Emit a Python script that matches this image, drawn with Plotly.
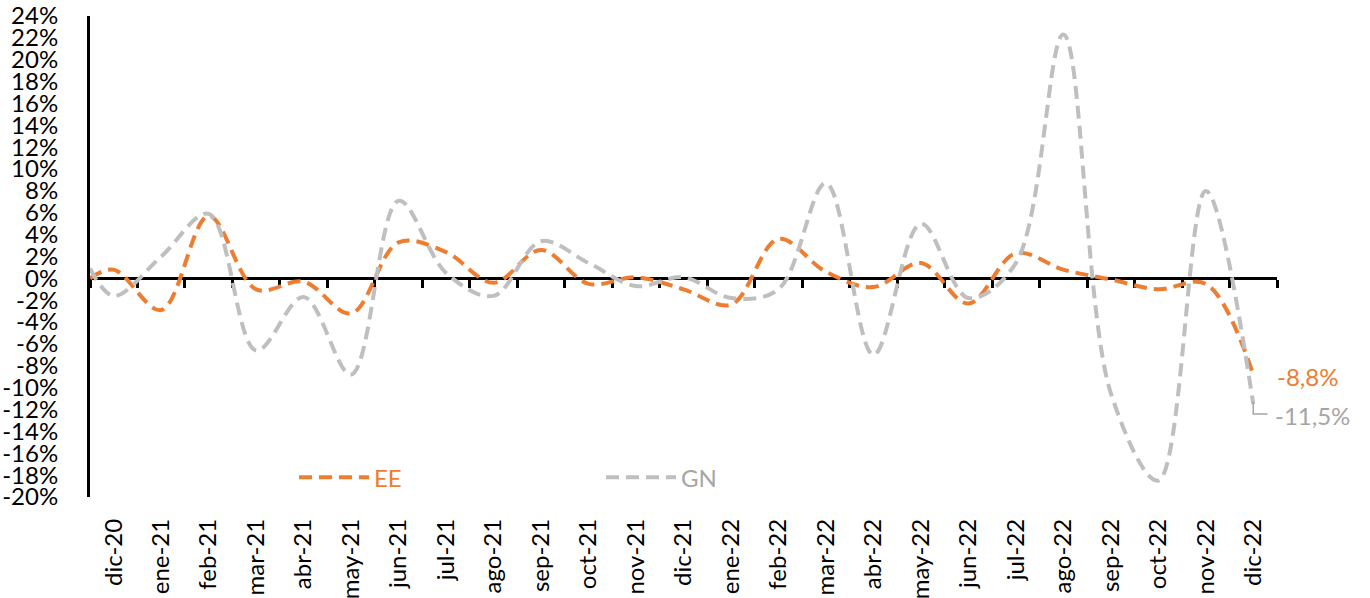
import plotly.graph_objects as go

# ---------------- data ----------------
categories = ["dic-20", "ene-21", "feb-21", "mar-21", "abr-21", "may-21", "jun-21",
              "jul-21", "ago-21", "sep-21", "oct-21", "nov-21", "dic-21", "ene-22",
              "feb-22", "mar-22", "abr-22", "may-22", "jun-22", "jul-22", "ago-22",
              "sep-22", "oct-22", "nov-22", "dic-22"]

# values at the left edge of the plot (line starts on the vertical axis)
ee_start = 0.0
gn_start = 0.9

ee_values = [0.8, -2.9, 5.7, -1.0, -0.3, -3.2, 3.3, 2.4, -0.4, 2.6, -0.5, 0.1, -1.0,
             -2.4, 3.6, 0.6, -0.8, 1.4, -2.3, 2.3, 0.8, -0.1, -1.0, -0.5, -8.8]
gn_values = [-1.6, 2.0, 5.9, -6.6, -1.7, -8.8, 7.1, 0.5, -1.6, 3.4, 1.4, -0.7, 0.1,
             -1.8, -1.0, 8.7, -7.0, 5.0, -1.8, 1.4, 22.3, -10.5, -18.5, 8.0, -11.5]

y_ticks = list(range(-20, 25, 2))

series_names = ["EE", "GN"]
ee_label = "-8,8%"
gn_label = "-11,5%"

# ---------------- style ----------------
ORANGE = "#ED7D31"
GRAY = "#BFBFBF"
GRAY_TXT = "#A5A5A5"
FONT = "Lato"
FS = 24

n = len(categories)
idx = list(range(n))
x_line = [-0.5] + idx

fig = go.Figure()
fig.add_trace(go.Scatter(
    x=x_line, y=[ee_start] + ee_values, name=series_names[0], mode="lines",
    line=dict(color=ORANGE, width=4, dash="13px,7px", shape="spline", smoothing=1.0),
    legend="legend", hoverinfo="skip"))
fig.add_trace(go.Scatter(
    x=x_line, y=[gn_start] + gn_values, name=series_names[1], mode="lines",
    line=dict(color=GRAY, width=4, dash="13px,7px", shape="spline", smoothing=1.0),
    legend="legend2", hoverinfo="skip"))
# dummy trace that activates the zero-level category axis
fig.add_trace(go.Scatter(x=[None], y=[None], xaxis="x2", showlegend=False,
                         hoverinfo="skip"))

xr = [-0.5, n - 0.5]
yr = [y_ticks[0], y_ticks[-1]]

fig.update_layout(
    width=1370, height=598,
    margin=dict(l=90, r=93, t=16, b=101, autoexpand=False),
    paper_bgcolor="white", plot_bgcolor="white",
    font=dict(family=FONT, size=FS, color="black"),
    xaxis=dict(range=xr, tickmode="array", tickvals=idx, ticktext=categories,
               tickangle=-90, ticks="", showline=False, showgrid=False,
               zeroline=False, ticklabelstandoff=16, automargin=False,
               ticklabeloverflow="allow",
               tickfont=dict(family=FONT, size=FS, color="black")),
    xaxis2=dict(range=xr, overlaying="x", anchor="free",
                position=(0 - yr[0]) / (yr[1] - yr[0]), side="bottom",
                tickmode="array", tickvals=[i - 0.5 for i in range(n + 1)],
                ticks="outside", ticklen=8, tickwidth=3, tickcolor="black",
                showticklabels=False, showline=True, linewidth=3,
                linecolor="black", showgrid=False, zeroline=False,
                layer="below traces", automargin=False),
    yaxis=dict(range=yr, tickmode="array", tickvals=y_ticks,
               ticktext=[f"{v}%" for v in y_ticks], ticks="",
               showline=True, linewidth=3, linecolor="black",
               showgrid=False, zeroline=False, ticklabelstandoff=24,
               layer="below traces", automargin=False,
               ticklabeloverflow="allow",
               tickfont=dict(family=FONT, size=FS, color="black")),
    legend=dict(orientation="h", x=(294 - 90) / 1187, y=0.04,
                xanchor="left", yanchor="middle", bgcolor="rgba(0,0,0,0)",
                font=dict(family=FONT, size=FS, color=ORANGE), itemwidth=70),
    legend2=dict(orientation="h", x=(601 - 90) / 1187, y=0.04,
                 xanchor="left", yanchor="middle", bgcolor="rgba(0,0,0,0)",
                 font=dict(family=FONT, size=FS, color=GRAY_TXT), itemwidth=70),
    showlegend=True,
)

# end-of-series labels
last = n - 1
fig.add_annotation(x=last, y=ee_values[-1], text=ee_label, showarrow=False,
                   xanchor="left", yanchor="middle", xshift=22, yshift=-2,
                   font=dict(family=FONT, size=FS, color=ORANGE))
fig.add_annotation(x=last, y=gn_values[-1], text=gn_label, showarrow=False,
                   xanchor="left", yanchor="middle", xshift=20, yshift=-11,
                   font=dict(family=FONT, size=FS, color=GRAY_TXT))
# L-shaped leader line for the GN label
y_pp = 10.95  # pixels per percentage point (plot height / range)
ly = gn_values[-1] - 10 / y_pp
fig.add_shape(type="path", xref="x", yref="y",
              path=f"M {last},{gn_values[-1] + 0.2} L {last},{ly} L {last + 0.3},{ly}",
              line=dict(color=GRAY_TXT, width=1.5))

fig.write_html("out.html", config={"displayModeBar": False},
               post_script="document.body.style.margin='0';")
